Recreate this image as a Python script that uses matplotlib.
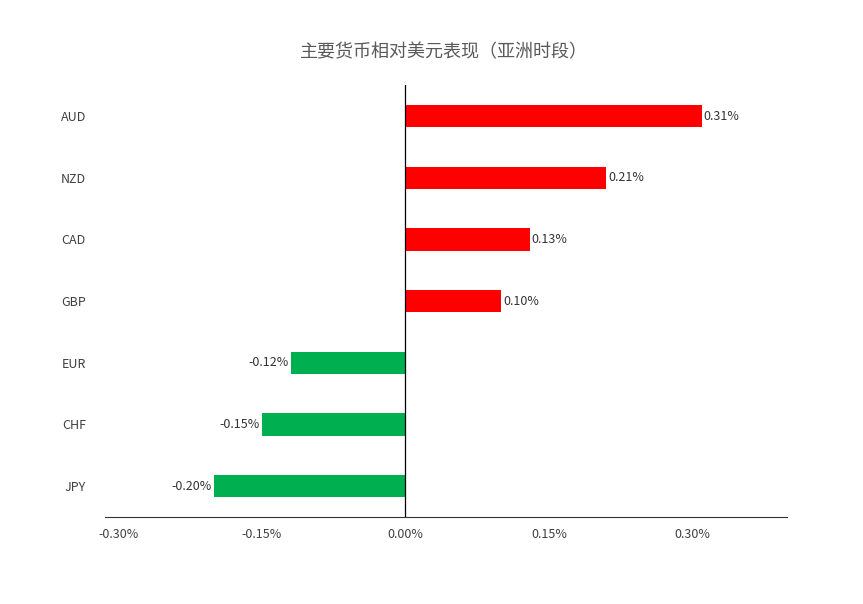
import matplotlib
matplotlib.use("Agg")
import matplotlib.pyplot as plt

plt.rcParams['font.family'] = ['Noto Sans CJK SC', 'DejaVu Sans']

currencies = ["AUD", "NZD", "CAD", "GBP", "EUR", "CHF", "JPY"]
values = [0.31, 0.21, 0.13, 0.10, -0.12, -0.15, -0.20]
xticks = [-0.30, -0.15, 0.00, 0.15, 0.30]
title = "主要货币相对美元表现（亚洲时段）"

fig = plt.figure(figsize=(8.63, 6.04), dpi=100)
ax = fig.add_axes([0.122, 0.144, 0.79, 0.715])
ypos = list(range(len(currencies)))[::-1]
colors = ["#FF0000" if v > 0 else "#00B050" for v in values]
ax.barh(ypos, values, height=0.36, color=colors)
for y, v in zip(ypos, values):
    ax.text(v + (0.002 if v > 0 else -0.002), y, f"{v:.2f}%", va="center",
            ha="left" if v > 0 else "right", fontsize=9, color="#333333")
ax.set_xlim(-0.3136, 0.399)
ax.set_ylim(-0.5, 6.5)
ax.set_yticks(ypos)
ax.set_yticklabels(currencies, fontsize=9, color="#404040")
ax.set_xticks(xticks)
ax.set_xticklabels([f"{t:.2f}%" for t in xticks], fontsize=9, color="#404040")
ax.tick_params(length=0, axis="y", pad=14)
ax.tick_params(length=0, axis="x", pad=8)
for s in ["top", "right", "left"]:
    ax.spines[s].set_visible(False)
ax.spines["bottom"].set_color("#333333")
ax.axvline(0, color="#000000", lw=0.9)
fig.text(0.515, 0.905, title, ha="center", fontsize=13, color="#595959")
fig.savefig("out.png", dpi=100)
